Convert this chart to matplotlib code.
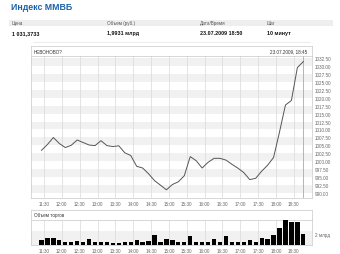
import matplotlib
matplotlib.use("Agg")
import matplotlib.pyplot as plt
import numpy as np

plt.rcParams['font.family'] = ['Liberation Sans', 'DejaVu Sans']

# ---- data ----
title = "Индекс ММВБ"
head_labels = ["Цена", "Объем (руб.)", "Дата/Время", "Шаг"]
head_values = ["1 031,3733", "1,9931 млрд", "23.07.2009 18:50", "10 минут"]
chart_name = "НЕВОНОВО?"
chart_stamp = "23.07.2009, 18:45"
vol_name = "Объем торгов"

index_values = [1003.44, 1005.27, 1007.47, 1005.58, 1004.32, 1005.02, 1006.69, 1005.90,
                1005.11, 1004.92, 1006.47, 1004.92, 1004.64, 1004.86, 1002.66, 1001.81,
                998.41, 997.87, 996.05, 993.90, 992.46, 991.01, 992.68, 993.53,
                995.45, 1001.46, 1000.17, 997.87, 999.67, 1000.92, 1000.92, 1000.36,
                999.04, 997.84, 996.42, 994.22, 994.63, 996.86, 998.75, 1001.18,
                1009.20, 1017.70, 1019.12, 1029.48, 1031.37]
volumes_bln = [0.93, 1.25, 1.25, 0.88, 0.61, 0.50, 0.75, 0.50, 1.12, 0.56, 0.56, 0.56,
               0.32, 0.37, 0.50, 0.50, 0.88, 0.61, 0.69, 1.81, 0.61, 1.12, 0.93, 0.50,
               0.50, 1.62, 0.61, 0.61, 0.61, 1.06, 0.50, 1.73, 0.56, 0.56, 0.56, 0.88,
               0.50, 1.30, 1.06, 1.86, 3.22, 4.66, 4.23, 4.23, 1.99]
time_labels = ["11:30", "12:00", "12:30", "13:00", "13:30", "14:00", "14:30", "15:00",
               "15:30", "16:00", "16:30", "17:00", "17:30", "18:00", "18:30"]
y_ticks = [990.0 + 2.5 * k for k in range(18)]
vol_tick = 2.0
vol_tick_label = "2 млрд"

W, H = 340, 255
fig = plt.figure(figsize=(W / 100, H / 100), dpi=100)
fig.patch.set_facecolor("white")

def ax_px(l, t, r, b):
    return fig.add_axes([l / W, 1 - b / H, (r - l) / W, (b - t) / H])

# ---- page header ----
fig.text(11 / W, 1 - 8 / H, title, color="#1b62a8", fontsize=6.3, fontweight="bold",
         va="center", ha="left")
hdr = ax_px(9, 20.5, 333, 27)
hdr.set_axis_off()
hdr.add_patch(plt.Rectangle((0, 0), 1, 1, transform=hdr.transAxes, color="#eeeeee", lw=0))
cols_x = [12, 107, 200, 267]
for x, lab, val in zip(cols_x, head_labels, head_values):
    fig.text(x / W, 1 - 23.8 / H, lab, fontsize=3.3, color="#555555", va="center", ha="left")
    fig.text(x / W, 1 - 33.3 / H, val, fontsize=3.9, color="#111111", fontweight="bold",
             va="center", ha="left")
fig.add_artist(plt.Line2D([33 / W, 310 / W], [1 - 42.5 / H, 1 - 42.5 / H], color="#e4e4e4", lw=0.5))

x_pos = np.arange(len(index_values))
tick_pos = [0.42 + 3 * k for k in range(len(time_labels))]
xlim = (-1.76, 45.41)
grid_c = "#d9d9d9"
band_c = "#f1f1f1"
txt_c = "#666666"

# ---- main chart header strip ----
mh = ax_px(31, 47, 311.7, 57)
mh.set_xticks([]); mh.set_yticks([])
for s in mh.spines.values():
    s.set_color("#c8c8c8"); s.set_linewidth(0.5)
mh.text(0.01, 0.5, chart_name, transform=mh.transAxes, fontsize=3.3, color="#333333",
        va="center", ha="left")
mh.text(0.985, 0.5, chart_stamp, transform=mh.transAxes, fontsize=3.3, color="#333333",
        va="center", ha="right")

# ---- main chart ----
ax = ax_px(31, 57, 311.7, 199)
ylim = (988.43, 1033.13)
for k, v in enumerate(y_ticks[:-1]):
    if k % 2 == 0:
        ax.axhspan(v, v + 2.5, color=band_c, lw=0, zorder=0)
for t in tick_pos:
    ax.axvline(t, color=grid_c, lw=0.5, zorder=1)
ax.axvline(x_pos[-1], color="#aaaaaa", lw=0.6, zorder=1)
ax.plot(x_pos, index_values, color="#555555", lw=0.7, zorder=3)
ax.set_xlim(*xlim)
ax.set_ylim(*ylim)
ax.yaxis.tick_right()
ax.set_yticks(y_ticks)
ax.set_yticklabels([f"{v:.2f}" for v in y_ticks])
ax.set_xticks(tick_pos)
ax.set_xticklabels(time_labels)
ax.tick_params(axis="both", length=0, labelsize=3.3, labelcolor=txt_c, pad=2.5)
for s in ax.spines.values():
    s.set_color("#c8c8c8"); s.set_linewidth(0.5)

# ---- volume header strip ----
vh = ax_px(31, 211, 311.7, 221)
vh.set_xticks([]); vh.set_yticks([])
for s in vh.spines.values():
    s.set_color("#c8c8c8"); s.set_linewidth(0.5)
vh.text(0.01, 0.5, vol_name, transform=vh.transAxes, fontsize=3.3, color="#333333",
        va="center", ha="left")

# ---- volume chart ----
va = ax_px(31, 221, 311.7, 246)
va.axhspan(0, 2.6, color=band_c, lw=0, zorder=0)
for t in tick_pos:
    va.axvline(t, color=grid_c, lw=0.5, zorder=1)
va.bar(x_pos, volumes_bln, width=0.72, color="black", zorder=3)
va.set_xlim(*xlim)
va.set_ylim(0, 4.68)
va.yaxis.tick_right()
va.set_yticks([vol_tick])
va.set_yticklabels([vol_tick_label])
va.set_xticks(tick_pos)
va.set_xticklabels(time_labels)
va.tick_params(axis="both", length=0, labelsize=3.3, labelcolor=txt_c, pad=2.5)
for s in va.spines.values():
    s.set_color("#c8c8c8"); s.set_linewidth(0.5)

fig.savefig("out.png", dpi=100, facecolor="white")
